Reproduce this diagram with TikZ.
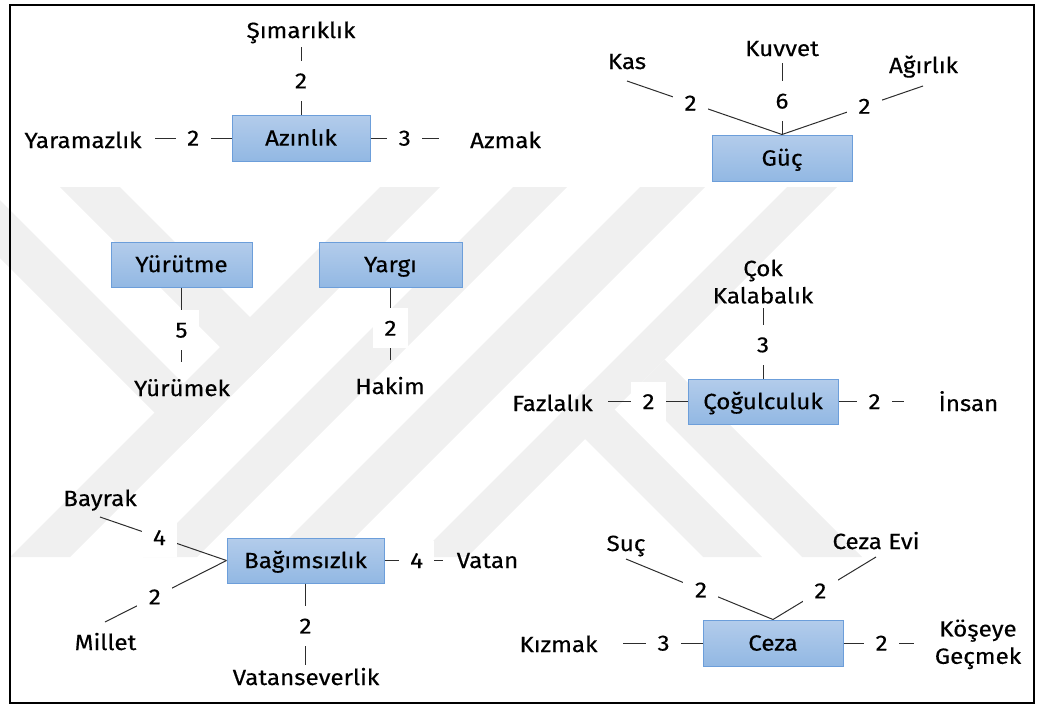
\documentclass[tikz,border=0pt]{standalone}
\usepackage{fontspec}
\setmainfont{Fira Sans}[FakeStretch=1.1, FakeBold=0.35]
\definecolor{boxtop}{RGB}{179,204,235}
\definecolor{boxbot}{RGB}{146,184,227}
\definecolor{boxedge}{RGB}{108,158,218}
\definecolor{wm}{RGB}{240,240,240}
\definecolor{linec}{RGB}{45,45,45}
\tikzset{
  every node/.style={font=\fontsize{16.5}{20.5}\selectfont, text=black},
  box/.style={draw=boxedge, line width=0.75pt, top color=boxtop, bottom color=boxbot,
              minimum height=34.5pt, inner sep=0pt, text height=11.4pt, text depth=0pt},
  num/.style={fill=white, inner sep=0pt, minimum width=26.25pt, minimum height=30pt,
              text height=11.4pt, text depth=0pt},
  lbl/.style={anchor=base, inner sep=0pt},
  lbltwo/.style={anchor=north, align=center, inner sep=0pt},
  link/.style={draw=linec, line width=0.75pt},
  band/.style={fill=wm, draw=none}
}
\begin{document}
\begin{tikzpicture}[x=0.75pt, y=-0.75pt]
\useasboundingbox (0,0) rectangle (1038,707);

% faint emblem in the background
\begin{scope}
  \clip (0,187) rectangle (1038,557);
  \fill[band] (380,187) -- (440,187) -- (70,557) -- (10,557) -- cycle;
  \fill[band] (60,187) -- (120,187) -- (280,347) -- (250,377) -- cycle;
  \fill[band] (-71,187) -- (-13,187) -- (213.5,413.5) -- (184.5,442.5) -- cycle;
  \fill[band] (513,187) -- (567,187) -- (197,557) -- (143,557) -- cycle;
  \fill[band] (640,187) -- (705,187) -- (335,557) -- (270,557) -- cycle;
  \fill[band] (787,187) -- (837,187) -- (467,557) -- (417,557) -- cycle;
  \fill[band] (560,414) -- (589.5,384.5) -- (762,557) -- (703,557) -- cycle;
  \fill[band] (634.5,389.5) -- (664.5,359.5) -- (862,557) -- (802,557) -- cycle;
\end{scope}

% frame
\draw[line width=1.5pt] (9.5,5) rectangle (1034,703);

% Azınlık
\node[box, minimum width=103.5pt] (azin) at (301,138) {Azınlık};
\coordinate (azin-t) at (301,47);
\coordinate (azin-l) at (155,138);
\coordinate (azin-r) at (439,138);
\node[lbl] (simar) at (301,38) {Şımarıklık};
\node[lbl] (yaram) at (83,148) {Yaramazlık};
\node[lbl] (azmak) at (505.5,148) {Azmak};
\draw[link] (azin.north) -- node[num]{2} (azin-t);
\draw[link] (azin.west) -- node[num]{2} (azin-l);
\draw[link] (azin.east) -- node[num]{3} (azin-r);

% Güç
\node[box, minimum width=105pt] (guc) at (782,158) {Güç};
\coordinate (guc-kas) at (627,81);
\coordinate (guc-kuv) at (782,63);
\coordinate (guc-agr) at (923,86);
\node[lbl] (kas) at (627,69) {Kas};
\node[lbl] (kuvvet) at (782,56) {Kuvvet};
\node[lbl] (agirlik) at (923.5,73) {Ağırlık};
\draw[link] (guc.north) -- node[num, pos=.59]{2} (guc-kas);
\draw[link] (guc.north) -- node[num, pos=.47]{6} (guc-kuv);
\draw[link] (guc.north) -- node[num, pos=.585]{2} (guc-agr);

% Yürütme
\node[box, minimum width=105.75pt, minimum height=33.75pt] (yur) at (181.5,264.5) {Yürütme};
\coordinate (yur-e) at (181.5,362);
\node[lbl] (yurumek) at (182,396) {Yürümek};
\draw[link] (yur.south) -- node[num, pos=.57]{5} (yur-e);

% Yargı
\node[box, minimum width=107.25pt, minimum height=33.75pt] (yargi) at (390.5,264.5) {Yargı};
\coordinate (yargi-e) at (390.5,360);
\node[lbl] (hakim) at (390,394) {Hakim};
\draw[link] (yargi.south) -- node[num, pos=.56]{2} (yargi-e);

% Çoğulculuk
\node[box, minimum width=112.5pt, minimum height=33.75pt] (cog) at (763,401.5) {Çoğulculuk};
\coordinate (cog-t) at (763,308);
\coordinate (cog-l) at (608,401.5);
\coordinate (cog-r) at (904,401.5);
\node[lbltwo] (cok) at (763,259.3) {Çok\\Kalabalık};
\node[lbl] (fazla) at (552.5,411) {Fazlalık};
\node[lbl] (insan) at (968.5,411) {İnsan};
\draw[link] (cog.north) -- node[num, pos=.48]{3} (cog-t);
\draw[link] (cog.west) -- node[num, pos=.49]{2} (cog-l);
\draw[link] (cog.east) -- node[num, pos=.55]{2} (cog-r);

% Bağımsızlık
\node[box, minimum width=117.75pt, minimum height=33.75pt] (bag) at (305.5,560.5) {Bağımsızlık};
\coordinate (bag-bay) at (100,517);
\coordinate (bag-mil) at (105,622);
\coordinate (bag-vat) at (443,560.5);
\coordinate (bag-vse) at (305.5,665);
\node[lbl] (bayrak) at (100,506) {Bayrak};
\node[lbl] (millet) at (105.5,650) {Millet};
\node[lbl] (vatan) at (487.5,568) {Vatan};
\node[lbl] (vatsev) at (306,685) {Vatanseverlik};
\draw[link] (bag.west) -- node[num, pos=.53]{4} (bag-bay);
\draw[link] (bag.west) -- node[num, pos=.59]{2} (bag-mil);
\draw[link] (bag.east) -- node[num, pos=.55]{4} (bag-vat);
\draw[link] (bag.south) -- node[num, pos=.52]{2} (bag-vse);

% Ceza
\node[box, minimum width=105pt] (ceza) at (773,643) {Ceza};
\coordinate (ceza-suc) at (626,559);
\coordinate (ceza-evi) at (876,557);
\coordinate (ceza-kiz) at (623,643);
\coordinate (ceza-kos) at (914,643);
\node[lbl] (suc) at (626,551) {Suç};
\node[lbl] (cezaevi) at (876,549) {Ceza Evi};
\node[lbl] (kizmak) at (558.5,652) {Kızmak};
\node[lbltwo] (koseye) at (978,619.3) {Köşeye\\Geçmek};
\draw[link] (ceza.north) -- node[num, pos=.49]{2} (ceza-suc);
\draw[link] (ceza.north) -- node[num, pos=.46]{2} (ceza-evi);
\draw[link] (ceza.west) -- node[num, pos=.49]{3} (ceza-kiz);
\draw[link] (ceza.east) -- node[num, pos=.54]{2} (ceza-kos);
\end{tikzpicture}
\end{document}
